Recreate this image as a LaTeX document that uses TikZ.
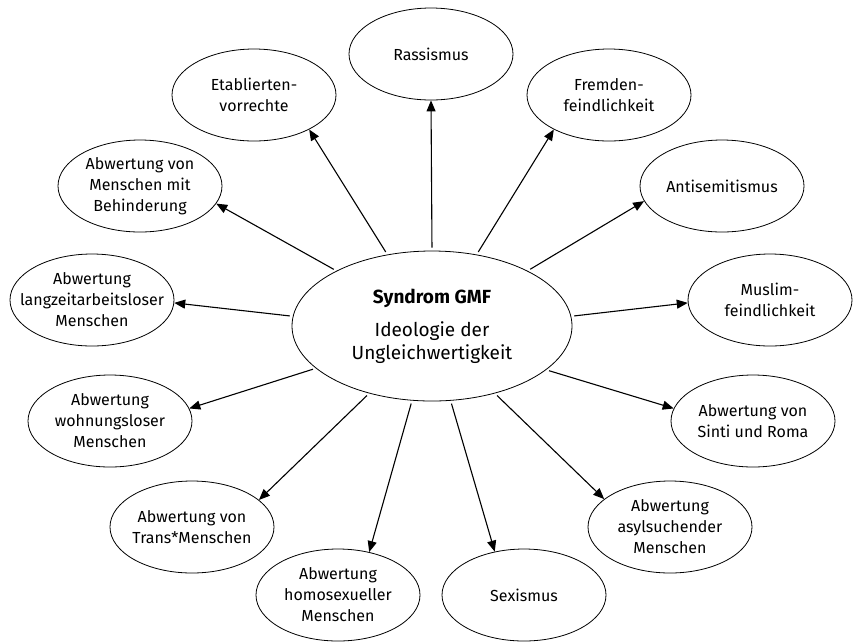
\documentclass[tikz,border=0pt]{standalone}
\usepackage{fontspec}
\setmainfont{Fira Sans}
\usetikzlibrary{shapes.geometric,arrows.meta}

\begin{document}
\begin{tikzpicture}[
    x=1pt,y=-1pt,
    feld/.style={draw,ellipse,line width=0.8pt,
        minimum width=164pt,minimum height=92pt,
        inner xsep=-20pt,inner ysep=0pt,align=center,
        font=\fontsize{16}{21}\selectfont},
    pfeil/.style={-{Triangle[length=11pt,width=9pt]},line width=1.1pt,shorten <=3pt}
]
    \useasboundingbox (0,0) rectangle (861,641);
    % Mitte
    \node[feld,minimum width=280pt,minimum height=150pt,
        font=\fontsize{19}{23}\selectfont] (gmf) at (432,326)
        {\textbf{Syndrom GMF}\\[10pt]Ideologie der\\Ungleichwertigkeit};
    % Elemente rundherum
    \node[feld] (rass)  at (431,54)  {Rassismus};
    \node[feld] (fremd) at (609,95)  {Fremden-\\feindlichkeit};
    \node[feld] (anti)  at (722,186) {Antisemitismus};
    \node[feld] (musl)  at (770,300) {Muslim-\\feindlichkeit};
    \node[feld] (sinti) at (753,421) {Abwertung von\\Sinti und Roma};
    \node[feld] (asyl)  at (670,527) {Abwertung\\asylsuchender\\Menschen};
    \node[feld] (sex)   at (524,595) {Sexismus};
    \node[feld] (homo)  at (338,595) {Abwertung\\homosexueller\\Menschen};
    \node[feld] (trans) at (192,527) {Abwertung von\\Trans*Menschen};
    \node[feld] (wohn)  at (110,421) {Abwertung\\wohnungsloser\\Menschen};
    \node[feld] (lang)  at (92,300)  {Abwertung\\langzeitarbeitsloser\\Menschen};
    \node[feld] (behi)  at (140,186) {Abwertung von\\Menschen mit\\Behinderung};
    \node[feld] (etab)  at (254,95)  {Etablierten-\\vorrechte};
    % Pfeile
    \foreach \ziel/\von/\nach in {etab/122/-32, rass/90/-90, fremd/58/-148,
        anti/30/-169, musl/4/-178, sinti/-21/171, asyl/-47/157, sex/-76/124,
        homo/-105/54, trans/-133/22, wohn/-160/9, lang/176/-2, behi/150/-13}
        \draw[pfeil] (gmf.\von) -- (\ziel.\nach);
\end{tikzpicture}
\end{document}
